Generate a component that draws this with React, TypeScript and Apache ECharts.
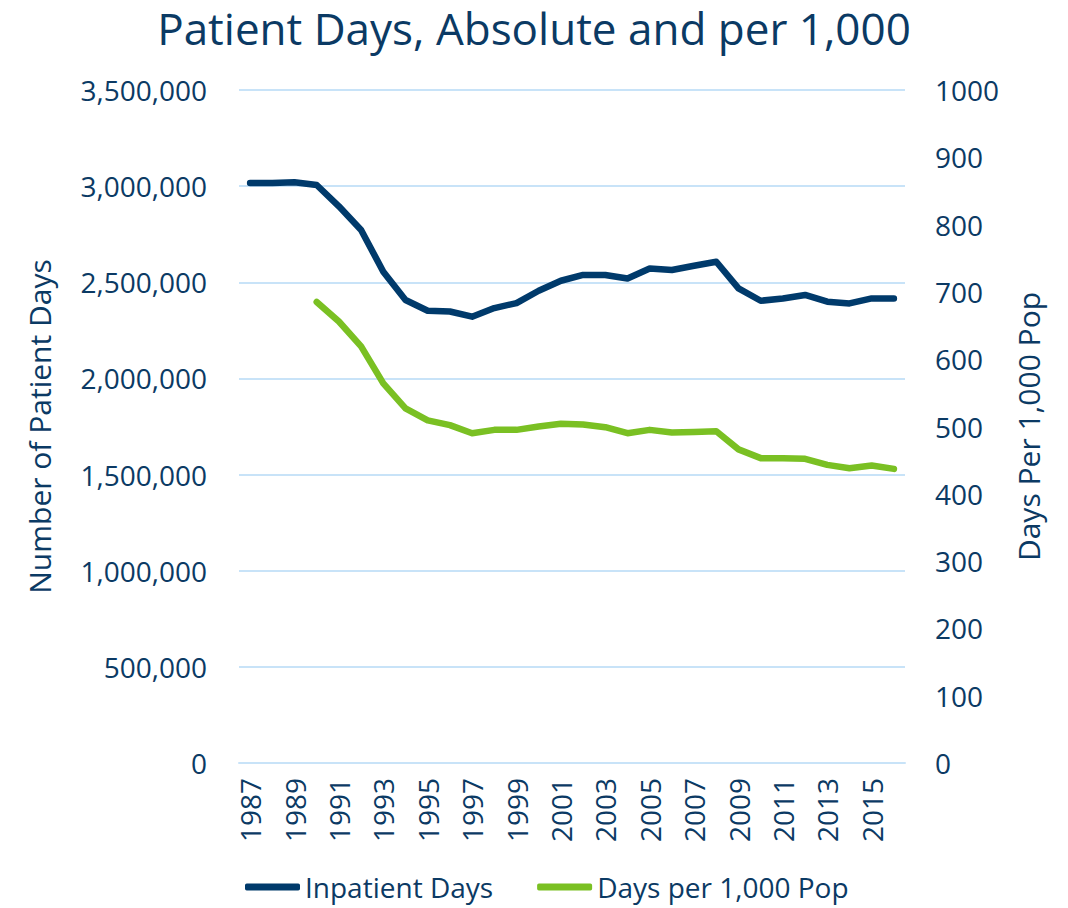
import React, { useEffect, useRef } from "react";
import * as echarts from "echarts";

const years = [
  "1987","1988","1989","1990","1991","1992","1993","1994","1995","1996",
  "1997","1998","1999","2000","2001","2002","2003","2004","2005","2006",
  "2007","2008","2009","2010","2011","2012","2013","2014","2015","2016",
];

const inpatientDays = [
  3016000, 3016000, 3020000, 3006000, 2895000, 2772000, 2555000, 2408000, 2352000, 2348000,
  2321000, 2366000, 2392000, 2456000, 2508000, 2538000, 2538000, 2520000, 2572000, 2564000,
  2586000, 2607000, 2468000, 2404000, 2416000, 2434000, 2399000, 2390000, 2416000, 2416000,
];

const daysPer1000 = [
  null, null, null, 685, 656, 619, 564, 527, 509, 502,
  490, 495, 495, 500, 504, 503, 499, 490, 495, 491,
  492, 493, 466, 453, 453, 452, 443, 438, 442, 437,
];

const seriesNames = ["Inpatient Days", "Days per 1,000 Pop"];

const NAVY = "#003a6b";
const GREEN = "#7ac023";
const TEXT = "#0b3a64";
const GRID = "#c8e3f8";
const FONT = "'Open Sans', sans-serif";

export default function App() {
  const ref = useRef<HTMLDivElement>(null);
  useEffect(() => {
    document.body.style.margin = "0";
    if (!ref.current) return;
    const chart = echarts.init(ref.current, undefined, { renderer: "svg" });
    chart.setOption({
      animation: false,
      textStyle: { fontFamily: FONT, color: TEXT },
      title: {
        text: "Patient Days, Absolute and per 1,000",
        left: "center",
        top: 4,
        padding: 0,
        textStyle: {
          fontFamily: FONT,
          fontSize: 44,
          lineHeight: 48,
          fontWeight: "normal",
          color: TEXT,
        },
      },
      legend: {
        bottom: 2,
        left: 240,
        itemWidth: 55,
        itemHeight: 7,
        itemGap: 44,
        icon: "roundRect",
        textStyle: { fontFamily: FONT, fontSize: 28, color: TEXT },
        data: seriesNames,
      },
      grid: { left: 239, right: 163, top: 90, bottom: 145 },
      xAxis: {
        type: "category",
        data: years,
        boundaryGap: true,
        axisLine: { lineStyle: { color: GRID, width: 2 } },
        axisTick: { show: false },
        axisLabel: {
          interval: 1,
          rotate: 90,
          margin: 15,
          fontFamily: FONT,
          fontSize: 28,
          color: TEXT,
        },
      },
      yAxis: [
        {
          type: "value",
          min: 0,
          max: 3500000,
          interval: 500000,
          name: "Number of Patient Days",
          nameLocation: "middle",
          nameGap: 185,
          nameTextStyle: { fontFamily: FONT, fontSize: 30, color: TEXT },
          axisLine: { show: false },
          axisTick: { show: false },
          axisLabel: {
            margin: 32,
            fontFamily: FONT,
            fontSize: 28,
            color: TEXT,
            formatter: (v: number) => v.toLocaleString("en-US"),
          },
          splitLine: { lineStyle: { color: GRID, width: 2 } },
        },
        {
          type: "value",
          min: 0,
          max: 1000,
          interval: 100,
          position: "right",
          name: "Days Per 1,000 Pop",
          nameLocation: "middle",
          nameGap: 108,
          nameRotate: 90,
          nameTextStyle: { fontFamily: FONT, fontSize: 30, color: TEXT },
          axisLine: { show: false },
          axisTick: { show: false },
          axisLabel: {
            margin: 30,
            fontFamily: FONT,
            fontSize: 28,
            color: TEXT,
            formatter: (v: number) => String(v),
          },
          splitLine: { show: false },
        },
      ],
      series: [
        {
          name: seriesNames[0],
          type: "line",
          yAxisIndex: 0,
          data: inpatientDays,
          showSymbol: false,
          symbol: "none",
          lineStyle: { color: NAVY, width: 6.5, cap: "round", join: "round" },
          itemStyle: { color: NAVY },
        },
        {
          name: seriesNames[1],
          type: "line",
          yAxisIndex: 1,
          data: daysPer1000,
          showSymbol: false,
          symbol: "none",
          lineStyle: { color: GREEN, width: 6.5, cap: "round", join: "round" },
          itemStyle: { color: GREEN },
        },
      ],
    });
    return () => chart.dispose();
  }, []);
  return <div ref={ref} style={{ width: 1068, height: 908 }} />;
}
